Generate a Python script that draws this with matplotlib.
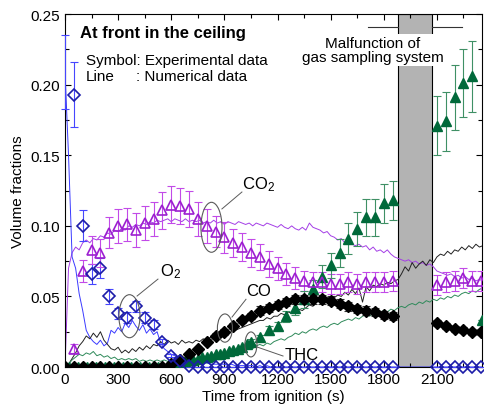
import numpy as np
import matplotlib
matplotlib.use('Agg')
import matplotlib.pyplot as plt
from matplotlib.patches import Ellipse
from matplotlib.ticker import MultipleLocator, FormatStrFormatter

plt.rcParams['font.family'] = ['Liberation Sans', 'DejaVu Sans']
plt.rcParams['mathtext.fontset'] = 'custom'
plt.rcParams['mathtext.rm'] = 'Liberation Sans'
plt.rcParams['mathtext.it'] = 'Liberation Sans:italic'

# numerical data, sampled every 20 s from ignition
num_step = 20
o2_num = [0.209, 0.150, 0.078, 0.070, 0.052, 0.040, 0.026, 0.021, 0.018, 0.016,
          0.019, 0.015, 0.017, 0.026, 0.024, 0.028, 0.025, 0.031, 0.028, 0.033,
          0.029, 0.026, 0.030, 0.024, 0.027, 0.023, 0.025, 0.017, 0.013, 0.011,
          0.009, 0.008, 0.007, 0.006, 0.005, 0.005, 0.004, 0.004, 0.003, 0.003,
          0.003, 0.002, 0.002, 0.002, 0.002, 0.002, 0.001, 0.002, 0.001, 0.001,
          0.001, 0.001, 0.001, 0.001, 0.000, 0.001, 0.000, 0.001, 0.000, 0.000,
          0.000, 0.000, 0.000, 0.000, 0.000, 0.000, 0.000, 0.000, 0.000, 0.000,
          0.000, 0.000, 0.000, 0.000, 0.000, 0.000, 0.000, 0.000, 0.000, 0.000,
          0.000, 0.000, 0.000, 0.000, 0.000, 0.000, 0.000, 0.000, 0.000, 0.000,
          0.000, 0.000, 0.000, 0.000, 0.000, 0.000, 0.000, 0.000, 0.000, 0.000,
          0.000, 0.000, 0.000, 0.000, 0.000, 0.000, 0.000, 0.000, 0.000, 0.000,
          0.000, 0.000, 0.000, 0.000, 0.000, 0.000, 0.000, 0.000, 0.000]
co2_num = [0.000, 0.070, 0.081, 0.085, 0.083, 0.088, 0.090, 0.088, 0.091, 0.090,
           0.093, 0.092, 0.095, 0.094, 0.097, 0.096, 0.098, 0.097, 0.100, 0.099,
           0.101, 0.100, 0.102, 0.101, 0.103, 0.102, 0.104, 0.103, 0.104, 0.105,
           0.103, 0.105, 0.104, 0.103, 0.105, 0.103, 0.104, 0.103, 0.104, 0.102,
           0.103, 0.102, 0.104, 0.102, 0.103, 0.101, 0.103, 0.102, 0.101, 0.103,
           0.102, 0.101, 0.102, 0.100, 0.102, 0.101, 0.100, 0.102, 0.101, 0.100,
           0.099, 0.101, 0.099, 0.098, 0.100, 0.098, 0.097, 0.099, 0.097, 0.102,
           0.099, 0.098, 0.097, 0.095, 0.096, 0.093, 0.092, 0.090, 0.091, 0.088,
           0.090, 0.087, 0.086, 0.087, 0.085, 0.086, 0.083, 0.085, 0.082, 0.083,
           0.081, 0.083, 0.080, 0.078, 0.077, 0.076, 0.075, 0.076, 0.074, 0.075,
           0.073, 0.074, 0.072, 0.073, 0.071, 0.068, 0.067, 0.066, 0.065, 0.066,
           0.064, 0.065, 0.063, 0.064, 0.062, 0.063, 0.061, 0.062, 0.061]
co_num = [0.000, 0.002, 0.006, 0.010, 0.015, 0.018, 0.022, 0.020, 0.024, 0.021,
          0.025, 0.019, 0.016, 0.013, 0.012, 0.014, 0.010, 0.012, 0.010, 0.013,
          0.011, 0.014, 0.012, 0.015, 0.013, 0.016, 0.015, 0.018, 0.016, 0.019,
          0.017, 0.018, 0.016, 0.019, 0.017, 0.018, 0.017, 0.019, 0.018, 0.020,
          0.019, 0.021, 0.020, 0.022, 0.023, 0.022, 0.024, 0.025, 0.026, 0.027,
          0.028, 0.029, 0.030, 0.031, 0.032, 0.033, 0.033, 0.035, 0.034, 0.036,
          0.036, 0.038, 0.037, 0.039, 0.038, 0.040, 0.041, 0.040, 0.042, 0.044,
          0.043, 0.046, 0.047, 0.048, 0.049, 0.050, 0.049, 0.051, 0.050, 0.053,
          0.051, 0.055, 0.052, 0.056, 0.046, 0.057, 0.054, 0.058, 0.057, 0.059,
          0.058, 0.060, 0.059, 0.061, 0.062, 0.066, 0.071, 0.068, 0.074, 0.070,
          0.073, 0.075, 0.072, 0.076, 0.074, 0.078, 0.080, 0.079, 0.082, 0.080,
          0.083, 0.082, 0.085, 0.083, 0.086, 0.084, 0.087, 0.085, 0.086]
thc_num = [0.000, 0.002, 0.005, 0.007, 0.009, 0.008, 0.010, 0.009, 0.011, 0.008,
           0.009, 0.007, 0.008, 0.006, 0.007, 0.005, 0.006, 0.005, 0.006, 0.005,
           0.006, 0.004, 0.005, 0.004, 0.005, 0.004, 0.005, 0.004, 0.005, 0.004,
           0.005, 0.005, 0.006, 0.005, 0.006, 0.006, 0.007, 0.006, 0.007, 0.008,
           0.007, 0.008, 0.009, 0.008, 0.009, 0.010, 0.009, 0.011, 0.010, 0.012,
           0.013, 0.012, 0.014, 0.013, 0.015, 0.016, 0.015, 0.017, 0.016, 0.018,
           0.019, 0.020, 0.019, 0.021, 0.022, 0.024, 0.023, 0.025, 0.024, 0.026,
           0.027, 0.026, 0.028, 0.029, 0.028, 0.030, 0.031, 0.030, 0.032, 0.033,
           0.034, 0.033, 0.035, 0.034, 0.036, 0.037, 0.036, 0.038, 0.037, 0.039,
           0.040, 0.039, 0.041, 0.040, 0.042, 0.043, 0.042, 0.044, 0.045, 0.044,
           0.046, 0.045, 0.047, 0.046, 0.048, 0.047, 0.049, 0.048, 0.050, 0.049,
           0.051, 0.050, 0.052, 0.053, 0.052, 0.054, 0.053, 0.055, 0.056]

# experimental data (gap = sampling system malfunction)
exp_t = [0, 50, 100, 150, 200, 250, 300, 350, 400, 450, 500, 550, 600, 650,
         700, 750, 800, 850, 900, 950, 1000, 1050, 1100, 1150, 1200, 1250,
         1300, 1350, 1400, 1450, 1500, 1550, 1600, 1650, 1700, 1750, 1800,
         1850, 2100, 2150, 2200, 2250, 2300, 2350]
o2_exp = [0.209, 0.193, 0.100, 0.066, 0.070, 0.050, 0.038, 0.035, 0.043, 0.035,
          0.030, 0.018, 0.008, 0.004, 0.001, 0.0, 0.0, 0.0, 0.0, 0.0, 0.0, 0.0,
          0.0, 0.0, 0.0, 0.0, 0.0, 0.0, 0.0, 0.0, 0.0, 0.0, 0.0, 0.0, 0.0, 0.0,
          0.0, 0.0, 0.0, 0.0, 0.0, 0.0, 0.0, 0.0]
o2_err = [0.026, 0.023, 0.011, 0.007, 0.007, 0.005, 0.004, 0.004, 0.004, 0.004,
          0.003, 0.002, 0.001, 0.001, 0.001, 0.0, 0.0, 0.0, 0.0, 0.0, 0.0, 0.0,
          0.0, 0.0, 0.0, 0.0, 0.0, 0.0, 0.0, 0.0, 0.0, 0.0, 0.0, 0.0, 0.0, 0.0,
          0.0, 0.0, 0.0, 0.0, 0.0, 0.0, 0.0, 0.0]
co2_t = exp_t[1:]
co2_exp = [0.013, 0.068, 0.083, 0.081, 0.095, 0.100, 0.101, 0.097, 0.102, 0.105,
           0.111, 0.115, 0.114, 0.112, 0.105, 0.100, 0.096, 0.092, 0.088, 0.085,
           0.081, 0.078, 0.073, 0.070, 0.066, 0.063, 0.061, 0.060, 0.060, 0.059,
           0.059, 0.060, 0.059, 0.060, 0.060, 0.060, 0.061,
           0.058, 0.060, 0.061, 0.063, 0.061, 0.061]
co2_err = [0.003, 0.008, 0.010, 0.010, 0.011, 0.012, 0.012, 0.012, 0.012, 0.012,
           0.013, 0.013, 0.013, 0.013, 0.012, 0.012, 0.011, 0.011, 0.010, 0.010,
           0.010, 0.009, 0.009, 0.008, 0.008, 0.008, 0.007, 0.007, 0.007, 0.007,
           0.007, 0.007, 0.007, 0.007, 0.007, 0.007, 0.007,
           0.007, 0.007, 0.007, 0.007, 0.007, 0.007]
co_exp = [0.0, 0.0, 0.0, 0.0, 0.0, 0.0, 0.0, 0.0, 0.0, 0.0, 0.0, 0.0,
          0.002, 0.005, 0.009, 0.013, 0.018, 0.022, 0.025, 0.029, 0.033, 0.036,
          0.040, 0.042, 0.044, 0.046, 0.048, 0.048, 0.048, 0.048, 0.047, 0.045,
          0.043, 0.041, 0.040, 0.039, 0.037, 0.036,
          0.031, 0.029, 0.027, 0.026, 0.025, 0.025]
co_err = [0.0, 0.0, 0.0, 0.0, 0.0, 0.0, 0.0, 0.0, 0.0, 0.0, 0.0, 0.0,
          0.001, 0.001, 0.001, 0.001, 0.002, 0.002, 0.002, 0.002, 0.002, 0.002,
          0.003, 0.003, 0.003, 0.003, 0.003, 0.003, 0.003, 0.003, 0.003, 0.003,
          0.003, 0.003, 0.003, 0.003, 0.003, 0.003,
          0.002, 0.002, 0.002, 0.002, 0.002, 0.002]
thc_dense_t = [0, 25, 50, 75, 100, 125, 150, 175, 200, 225, 250, 275, 300, 325,
               350, 375, 400, 425, 450, 475, 500, 525, 550, 575, 600, 625, 650,
               675, 700, 725, 750, 775, 800, 825, 850, 875, 900, 925, 950, 975,
               1000, 1025]
thc_dense = [0.0, 0.0, 0.0, 0.0, 0.0, 0.0, 0.0, 0.0, 0.0, 0.0, 0.0, 0.0,
             0.0, 0.0, 0.0, 0.0, 0.0, 0.0, 0.0, 0.0, 0.0, 0.0, 0.0, 0.0,
             0.001, 0.002, 0.003, 0.004, 0.005, 0.005, 0.006, 0.007, 0.007,
             0.008, 0.009, 0.009, 0.010, 0.011, 0.012, 0.013, 0.014, 0.016]
thc_t = [1050, 1100, 1150, 1200, 1250, 1300, 1350, 1400, 1450, 1500, 1550,
         1600, 1650, 1700, 1750, 1800, 1850, 2100, 2150, 2200, 2250, 2300, 2355]
thc_exp = [0.018, 0.021, 0.026, 0.029, 0.036, 0.042, 0.048, 0.055, 0.064, 0.072,
           0.081, 0.091, 0.098, 0.106, 0.106, 0.116, 0.118,
           0.171, 0.174, 0.191, 0.201, 0.206, 0.033]
thc_err = [0.002, 0.002, 0.003, 0.003, 0.004, 0.005, 0.006, 0.007, 0.008, 0.009,
           0.010, 0.011, 0.012, 0.013, 0.013, 0.014, 0.014,
           0.021, 0.021, 0.023, 0.024, 0.025, 0.0]

fig, ax = plt.subplots(figsize=(4.85, 4.10), dpi=100)
fig.subplots_adjust(left=0.134, right=0.994, bottom=0.1024, top=0.963)

ax.axvspan(1880, 2070, facecolor='#b3b3b3', edgecolor='black', lw=0.8, zorder=0.5)

def tgrid(v):
    return np.arange(len(v)) * num_step

ax.plot(tgrid(co2_num), co2_num, color='#a43ee6', lw=0.7, zorder=2)
ax.plot(tgrid(o2_num), o2_num, color='#3a3aff', lw=0.7, zorder=2)
ax.plot(tgrid(co_num), co_num, color='#222222', lw=0.7, zorder=2)
ax.plot(tgrid(thc_num), thc_num, color='#2f8a5a', lw=0.7, zorder=2)

def err(t, v, e, c, clip=True):
    eb = ax.errorbar(t, v, yerr=e, fmt='none', ecolor=c, elinewidth=0.8,
                     capsize=3, capthick=0.8, zorder=3)
    for art in eb.lines[1] + eb.lines[2]:
        art.set_clip_on(clip)

err(exp_t, o2_exp, o2_err, '#4646ff', clip=False)
err(co2_t, co2_exp, co2_err, '#c24ae8')
err(exp_t, co_exp, co_err, '#333333')
err(thc_t, thc_exp, thc_err, '#3f9065')

ax.plot(thc_dense_t, thc_dense, '^', ms=7.5, color='#00693a', zorder=4)
ax.plot(thc_t, thc_exp, '^', ms=7.5, color='#00693a', zorder=4)
ax.plot(exp_t, co_exp, 'D', ms=6.5, color='black', zorder=4.5)
ax.plot(co2_t, co2_exp, '^', ms=7.5, mfc='none', mec='#9c1fd0', mew=1.2, zorder=4)
ax.plot(exp_t[1:], o2_exp[1:], 'D', ms=6.5, mfc='none', mec='#1c1ca8', mew=1.2,
        clip_on=False, zorder=5)

# ellipses and leader lines
gray = '#5a5a5a'
for c, w, h in [((364, 0.036), 119, 0.0305), ((827, 0.099), 119, 0.0354),
                ((903, 0.0276), 85, 0.020), ((1050, 0.016), 68, 0.0177)]:
    ax.add_patch(Ellipse(c, w, h, fill=False, ec=gray, lw=0.8, zorder=6))
ax.plot([407, 525], [0.0503, 0.0623], color=gray, lw=0.7, zorder=6)
ax.plot([886, 999], [0.112, 0.124], color=gray, lw=0.7, zorder=6)
ax.plot([943, 1022], [0.0354, 0.048], color=gray, lw=0.7, zorder=6)
ax.plot([1084, 1231], [0.0142, 0.0078], color=gray, lw=0.7, zorder=6)
ax.text(536, 0.068, r'O$_2$', fontsize=12, ha='left', va='center', zorder=7)
ax.text(1000, 0.1296, r'CO$_2$', fontsize=12, ha='left', va='center', zorder=7)
ax.text(1025, 0.0545, 'CO', fontsize=12, ha='left', va='center', zorder=7)
ax.text(1242, 0.0092, 'THC', fontsize=12, ha='left', va='center', zorder=7)

# malfunction marker
ax.plot([1711, 1880], [0.241, 0.241], color='#333333', lw=0.8, zorder=6)
ax.plot([2070, 2242], [0.241, 0.241], color='#333333', lw=0.8, zorder=6)
ax.text(1739, 0.2245, 'Malfunction of\ngas sampling system', fontsize=11,
        ha='center', va='center', linespacing=1.0, zorder=7,
        bbox=dict(facecolor='white', edgecolor='none', pad=1.5))

ax.text(85, 0.237, 'At front in the ceiling', fontsize=12, fontweight='bold',
        ha='left', va='center')
ax.text(119, 0.2174, 'Symbol: Experimental data', fontsize=11, ha='left', va='center')
ax.text(119, 0.206, 'Line', fontsize=11, ha='left', va='center')
ax.text(401, 0.206, ': Numerical data', fontsize=11, ha='left', va='center')

ax.set_xlim(0, 2355)
ax.set_ylim(0, 0.25)
ax.xaxis.set_major_locator(MultipleLocator(300))
ax.xaxis.set_minor_locator(MultipleLocator(150))
ax.yaxis.set_major_locator(MultipleLocator(0.05))
ax.yaxis.set_minor_locator(MultipleLocator(0.025))
ax.yaxis.set_major_formatter(FormatStrFormatter('%.2f'))
ax.tick_params(which='both', direction='in', top=True, right=True,
               labelsize=11, width=0.8)
ax.tick_params(which='major', length=4)
ax.tick_params(which='minor', length=3)
ax.set_xlabel('Time from ignition (s)', fontsize=11, labelpad=2)
ax.set_ylabel('Volume fractions', fontsize=11, labelpad=4)

fig.savefig('out.png', dpi=100)
